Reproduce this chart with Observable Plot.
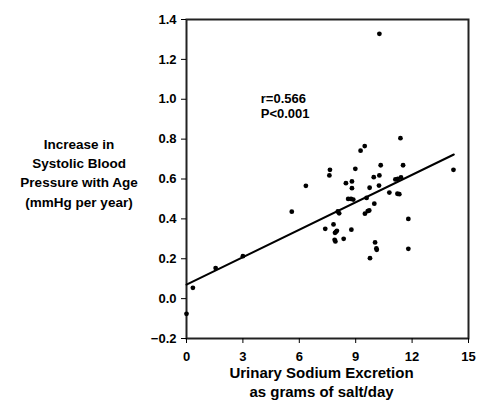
<!DOCTYPE html>
<html>
<head>
<meta charset="utf-8">
<script src="https://cdn.jsdelivr.net/npm/d3@7"></script>
<script src="https://cdn.jsdelivr.net/npm/@observablehq/plot@0.6"></script>
<style>
  html, body { margin: 0; padding: 0; background: #fff; }
</style>
</head>
<body>
<div id="chart"></div>
<script>
// Urinary sodium excretion (g salt/day)
const salt = [0, 0.34, 1.55, 3.0, 5.6, 6.35, 7.63, 7.6, 7.38, 7.82, 7.9, 7.95, 8.0, 7.88, 7.92, 8.36, 8.77, 8.05, 8.12, 8.48, 8.8, 8.8, 8.6, 8.75, 8.87, 8.98, 9.26, 9.48, 9.49, 9.64, 9.72, 9.58, 9.74, 9.96, 10.26, 10.33, 10.24, 9.99, 10.03, 10.1, 10.12, 9.76, 10.79, 11.11, 11.24, 11.41, 11.22, 11.32, 11.38, 11.52, 11.8, 11.8, 14.2, 10.26];
// Increase in systolic BP with age (mmHg per year)
const bpIncrease = [-0.076, 0.054, 0.153, 0.213, 0.436, 0.566, 0.646, 0.618, 0.35, 0.372, 0.33, 0.335, 0.34, 0.295, 0.287, 0.30, 0.346, 0.437, 0.428, 0.579, 0.588, 0.554, 0.50, 0.50, 0.497, 0.651, 0.742, 0.765, 0.426, 0.439, 0.442, 0.505, 0.556, 0.609, 0.618, 0.669, 0.567, 0.476, 0.282, 0.252, 0.245, 0.203, 0.532, 0.598, 0.601, 0.608, 0.526, 0.524, 0.805, 0.669, 0.40, 0.25, 0.646, 1.328];
// Regression line end points
const fitX = [0, 14.22];
const fitY = [0.07, 0.723];
const xTicks = [0, 3, 6, 9, 12, 15];
const yTicks = [-0.2, 0, 0.2, 0.4, 0.6, 0.8, 1.0, 1.2, 1.4];
const statsText = "r=0.566\nP<0.001";
const xLabel = "Urinary Sodium Excretion\nas grams of salt/day";
const yLabel = "Increase in\nSystolic Blood\nPressure with Age\n(mmHg per year)";

const points = salt.map((x, i) => ({x, y: bpIncrease[i]}));
const fit = fitX.map((x, i) => ({x, y: fitY[i]}));

const chart = Plot.plot({
  width: 488,
  height: 405,
  marginLeft: 186,
  marginRight: 20,
  marginTop: 19,
  marginBottom: 67,
  style: {fontFamily: "'Liberation Sans', Arial, sans-serif", fontWeight: "bold", fontSize: "13px", color: "#000", background: "#fff"},
  x: {domain: [0, 15]},
  y: {domain: [-0.2, 1.4]},
  marks: [
    Plot.frame({stroke: "#222", strokeWidth: 2}),
    Plot.axisX({ticks: xTicks, tickSize: 5, tickPadding: 8, label: null, fontSize: 13}),
    Plot.axisY({ticks: yTicks, tickSize: 5, tickPadding: 5, tickFormat: d3.format(".1f"), label: null, fontSize: 13}),
    Plot.line(fit, {x: "x", y: "y", stroke: "#000", strokeWidth: 2}),
    Plot.dot(points, {x: "x", y: "y", r: 2.4, fill: "#000", stroke: "none"}),
    Plot.text([statsText], {x: 3.95, y: 1.0, text: d => d, textAnchor: "start", lineAnchor: "top", fontSize: 13, lineHeight: 1.1, dy: -6}),
    Plot.text([xLabel], {frameAnchor: "bottom", text: d => d, fontSize: 15, lineHeight: 1.27, lineAnchor: "top", dy: 26, dx: -6}),
    Plot.text([yLabel], {frameAnchor: "left", text: d => d, fontSize: 13.5, lineHeight: 1.44, textAnchor: "middle", lineAnchor: "middle", dx: -107.5, dy: -7.5})
  ]
});
document.getElementById("chart").appendChild(chart);
</script>
</body>
</html>
